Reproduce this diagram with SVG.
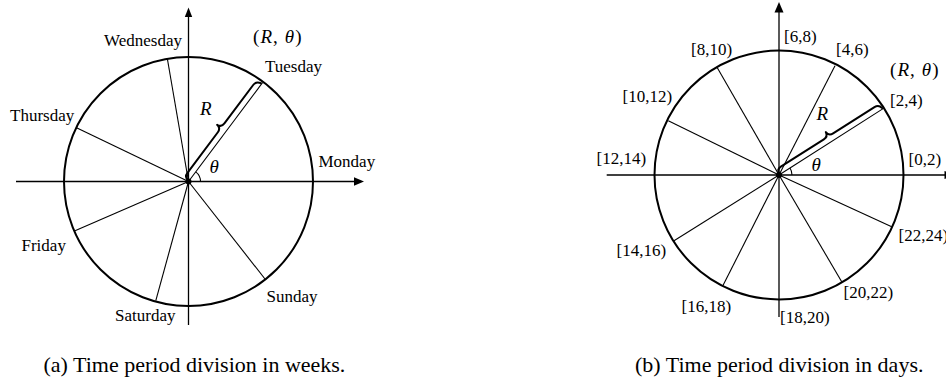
<svg xmlns="http://www.w3.org/2000/svg" width="946" height="379" viewBox="0 0 946 379">
<defs>
<style>
.bg{fill:#fff}
.circ{fill:none;stroke:#000;stroke-width:2}
.axis{stroke:#000;stroke-width:1.3;fill:none}
.spoke{stroke:#000;stroke-width:1.1;fill:none}
.brace{stroke:#000;stroke-width:2;fill:none;stroke-linejoin:round;stroke-linecap:round}
.arr{fill:#000}
.dot{fill:#000}
.lbl{font-family:"Liberation Serif","Times New Roman",serif;font-size:17px;fill:#000}
.math{font-family:"Liberation Serif","Times New Roman",serif;font-size:19px;fill:#000}
.it{font-style:italic}
.cap{font-family:"Liberation Serif","Times New Roman",serif;font-size:22px;fill:#000}
</style>
</defs>
<rect class="bg" x="0" y="0" width="946" height="379"/>

<!-- Left diagram: weeks -->
<g id="weeks-circle">
<circle class="circ" cx="188.5" cy="181.5" r="124.5"/>
</g>
<g id="weeks-connectors">
<line class="axis" x1="16" y1="181.5" x2="355" y2="181.5"/>
<polygon class="arr" points="354,177.3 364,181.5 354,185.7"/>
<line class="axis" x1="188.5" y1="325" x2="188.5" y2="16"/>
<polygon class="arr" points="184.8,17 188.5,7.5 192.2,17"/>
<line class="spoke" x1="188.5" y1="181.5" x2="262.5" y2="82.7"/>
<line class="spoke" x1="188.5" y1="181.5" x2="167.4" y2="59"/>
<line class="spoke" x1="188.5" y1="181.5" x2="76" y2="127.4"/>
<line class="spoke" x1="188.5" y1="181.5" x2="75" y2="230.7"/>
<line class="spoke" x1="188.5" y1="181.5" x2="155.8" y2="300.7"/>
<line class="spoke" x1="188.5" y1="181.5" x2="265" y2="279"/>
<path class="brace" transform="translate(188.5,181.5) rotate(-53.2)" d="M1,-1 Q1,-6 6,-6 L57,-6 Q62,-6 62.5,-11 Q63,-6 68,-6 L116,-6 Q121,-6 122,-1"/>
<path class="spoke" d="M200.5,181.5 A12,12 0 0 0 195.7,171.9"/>
<circle class="dot" cx="188.5" cy="181.5" r="3"/>
</g>
<g id="weeks-labels">
<text class="lbl" x="104" y="45.5">Wednesday</text>
<text class="math" x="253" y="42.5" textLength="48.5" lengthAdjust="spacing">(<tspan class="it">R</tspan>, <tspan class="it">θ</tspan>)</text>
<text class="lbl" x="265" y="71.5">Tuesday</text>
<text class="lbl" x="10" y="120.5">Thursday</text>
<text class="math it" x="200" y="115">R</text>
<text class="math it" x="209.5" y="172.5">θ</text>
<text class="lbl" x="318.5" y="166.5">Monday</text>
<text class="lbl" x="21.5" y="250.5">Friday</text>
<text class="lbl" x="266.5" y="301.5">Sunday</text>
<text class="lbl" x="115" y="320.5">Saturday</text>
<text class="cap" x="43.5" y="371.5">(a) Time period division in weeks.</text>
</g>

<!-- Right diagram: days -->
<g id="days-circle">
<circle class="circ" cx="779" cy="175" r="124.5"/>
</g>
<g id="days-connectors">
<line class="axis" x1="606.7" y1="175" x2="946" y2="175"/>
<polygon class="arr" points="944.5,171 954.5,175 944.5,179"/>
<line class="axis" x1="779" y1="317" x2="779" y2="10"/>
<polygon class="arr" points="774.5,12.5 779,2 783.5,12.5"/>
<line class="spoke" x1="779" y1="175" x2="883.5" y2="108.4"/>
<line class="spoke" x1="779" y1="175" x2="835" y2="65.7"/>
<line class="spoke" x1="779" y1="175" x2="717.3" y2="67.7"/>
<line class="spoke" x1="779" y1="175" x2="668.3" y2="120.7"/>
<line class="spoke" x1="779" y1="175" x2="674" y2="240.7"/>
<line class="spoke" x1="779" y1="175" x2="722.7" y2="286"/>
<line class="spoke" x1="779" y1="175" x2="841.7" y2="281.7"/>
<line class="spoke" x1="779" y1="175" x2="891.7" y2="226.7"/>
<path class="brace" transform="translate(779,175) rotate(-32.5)" d="M1,-1 Q1,-6 6,-6 L57,-6 Q62,-6 62.5,-11 Q63,-6 68,-6 L117,-6 Q122,-6 123,-1"/>
<path class="spoke" d="M792,175 A13,13 0 0 0 790,168"/>
<circle class="dot" cx="779" cy="175" r="3"/>
</g>
<g id="days-labels">
<text class="lbl" x="784" y="41.7">[6,8)</text>
<text class="lbl" x="691" y="54.5">[8,10)</text>
<text class="lbl" x="836" y="54.5">[4,6)</text>
<text class="math" x="890" y="75.5" textLength="48.5" lengthAdjust="spacing">(<tspan class="it">R</tspan>, <tspan class="it">θ</tspan>)</text>
<text class="lbl" x="622.5" y="101.7">[10,12)</text>
<text class="lbl" x="890" y="106">[2,4)</text>
<text class="math it" x="816.5" y="120">R</text>
<text class="math it" x="811.5" y="171">θ</text>
<text class="lbl" x="596.5" y="164.3">[12,14)</text>
<text class="lbl" x="908.5" y="165">[0,2)</text>
<text class="lbl" x="898.5" y="241">[22,24)</text>
<text class="lbl" x="616.5" y="256">[14,16)</text>
<text class="lbl" x="843.5" y="298.3">[20,22)</text>
<text class="lbl" x="681.5" y="311.7">[16,18)</text>
<text class="lbl" x="780" y="322.7">[18,20)</text>
<text class="cap" x="635" y="371.5">(b) Time period division in days.</text>
</g>
</svg>
